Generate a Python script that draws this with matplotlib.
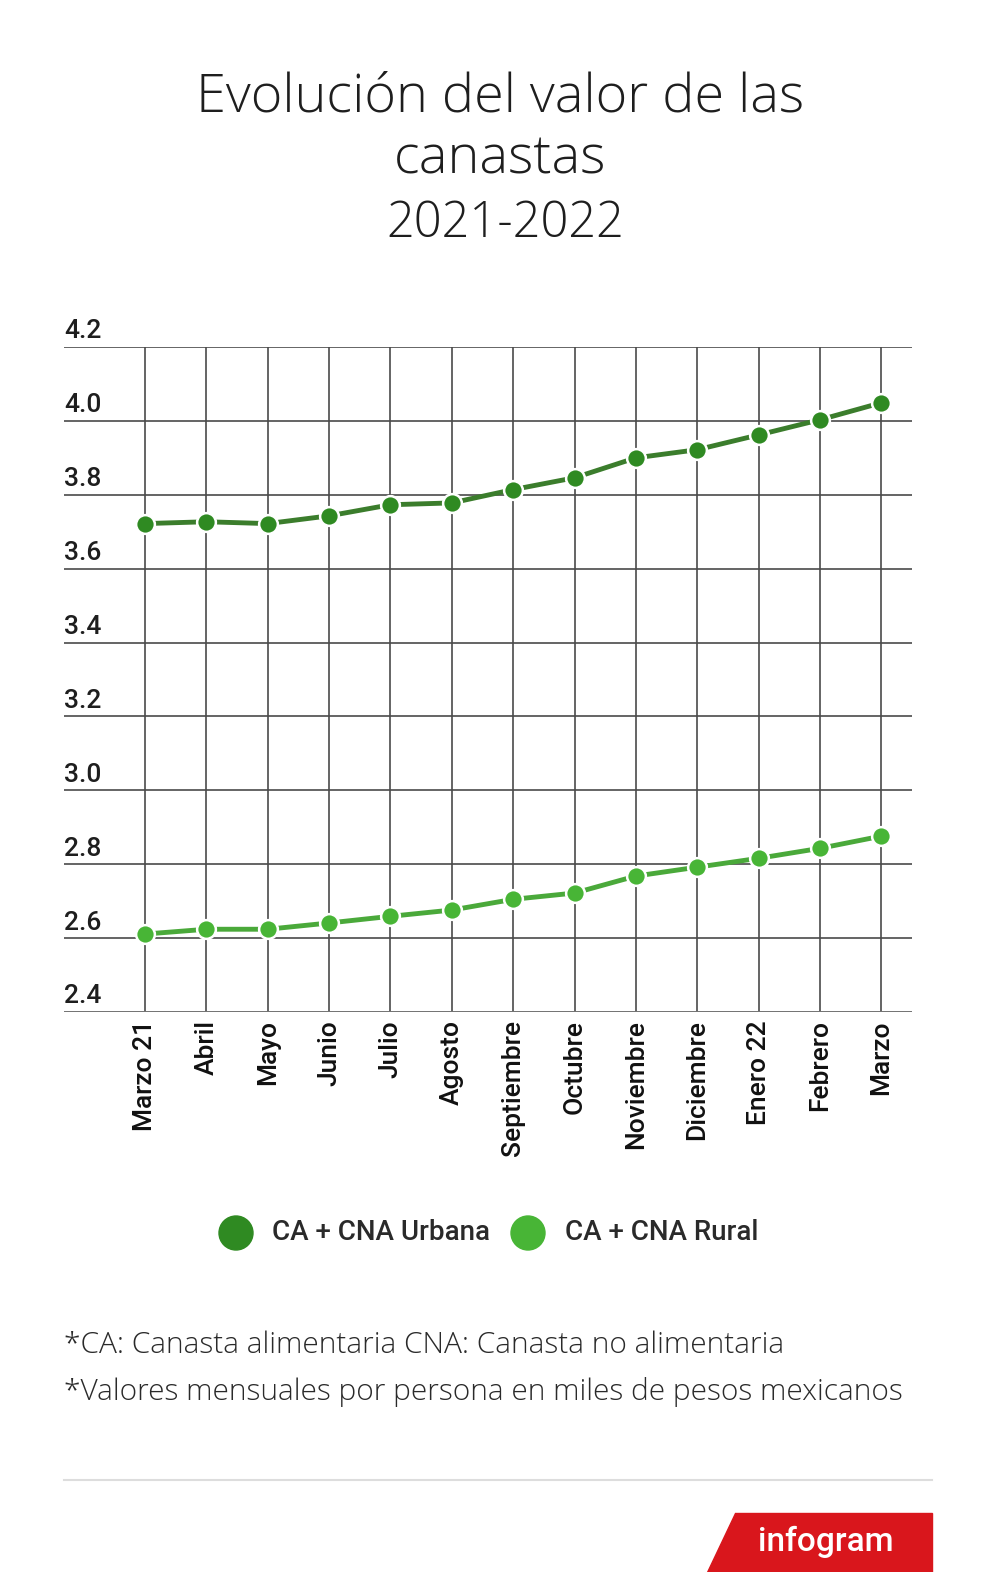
import matplotlib.pyplot as plt
from matplotlib.patches import Polygon, Ellipse
from matplotlib.transforms import blended_transform_factory

meses = ["Marzo 21", "Abril", "Mayo", "Junio", "Julio", "Agosto", "Septiembre",
         "Octubre", "Noviembre", "Diciembre", "Enero 22", "Febrero", "Marzo"]
urbana = [3.722, 3.727, 3.722, 3.743, 3.773, 3.778, 3.814, 3.846, 3.900,
          3.922, 3.962, 4.003, 4.049]
rural = [2.611, 2.624, 2.624, 2.641, 2.659, 2.676, 2.705, 2.722, 2.768,
         2.792, 2.816, 2.843, 2.876]
yticks = [2.4, 2.6, 2.8, 3.0, 3.2, 3.4, 3.6, 3.8, 4.0, 4.2]
series = ["CA + CNA Urbana", "CA + CNA Rural"]

verde_osc = "#2f8a22"
verde_cla = "#48b536"
grid_col = "#4a4a4a"
W, H = 1000, 1572


def fx(px):
    return px / W


def fy(py):
    return 1 - py / H


fig = plt.figure(figsize=(10, 15.72), dpi=100)
fig.patch.set_facecolor("white")

# titulo
tit = dict(ha="center", va="center", family="Open Sans", fontweight="light",
           color="#1e1e1e")
fig.text(0.5, fy(98), "Evolución del valor de las", fontsize=39, **tit)
fig.text(0.5, fy(160), "canastas", fontsize=39, **tit)
fig.text(0.505, fy(224), "2021-2022", fontsize=35, **tit)

ax = fig.add_axes([fx(64), fy(1012), fx(912) - fx(64), (1012 - 347) / H])
x = list(range(len(meses)))

ax.set_xlim(-1.32, 12.5)
ax.set_ylim(yticks[0], yticks[-1])
for s in ax.spines.values():
    s.set_visible(False)

for yv in yticks:
    ax.axhline(yv, color=grid_col, lw=1.2, zorder=1)
for xv in x:
    ax.axvline(xv, color=grid_col, lw=1.2, zorder=1)
ax.axhline(yticks[0], color="#777777", lw=2, zorder=1)

ax.plot(x, urbana, color="#3b7d2c", lw=3.5, zorder=2)
ax.plot(x, urbana, ls="none", marker="o", ms=13.5, mfc=verde_osc,
        mec="white", mew=1.8, zorder=3)
ax.plot(x, rural, color="#4aa93a", lw=3.5, zorder=2)
ax.plot(x, rural, ls="none", marker="o", ms=13.5, mfc=verde_cla,
        mec="white", mew=1.8, zorder=3)

ax.set_yticks([])
trans = blended_transform_factory(ax.transAxes, ax.transData)
for yv in yticks:
    ax.text(0.0, yv + 0.042, f"{yv:.1f}", transform=trans, ha="left", va="center",
            fontsize=19, family="Roboto", fontweight="medium", color="#1e1e1e")

ax.set_xticks(x)
ax.set_xticklabels(meses, rotation=90, fontsize=19, family="Roboto",
                   fontweight="medium", color="#111111")
ax.tick_params(axis="x", length=0, pad=6)

# leyenda
r = 0.017
for cx, tx, col, lab in [(236, 272, verde_osc, series[0]),
                         (528, 565, verde_cla, series[1])]:
    fig.add_artist(Ellipse((fx(cx), fy(1233)), 2 * r, 2 * r * W / H,
                           transform=fig.transFigure, color=col))
    fig.text(fx(tx), fy(1233), lab, ha="left", va="center", fontsize=20,
             family="Roboto", fontweight="medium", color="#2a2a2a")

# notas
nota = dict(ha="left", va="center", fontsize=21.5, family="Open Sans",
            fontweight="light", color="#2a2a2a")
fig.text(fx(64), fy(1345), "*CA: Canasta alimentaria CNA: Canasta no alimentaria", **nota)
fig.text(fx(64), fy(1392), "*Valores mensuales por persona en miles de pesos mexicanos", **nota)

fig.add_artist(plt.Line2D([fx(64), fx(932)], [fy(1480)] * 2,
                          transform=fig.transFigure, color="#dddddd", lw=1.5))

# logo
logo = Polygon([(fx(735), fy(1513)), (fx(932), fy(1513)), (fx(932), 0), (fx(707), 0)],
               closed=True, transform=fig.transFigure, color="#d9161c")
fig.add_artist(logo)
fig.text(fx(826), fy(1542), "infogram", ha="center", va="center",
         fontsize=24, family="Roboto", fontweight="medium", color="white")

fig.savefig("out.png", dpi=100)
